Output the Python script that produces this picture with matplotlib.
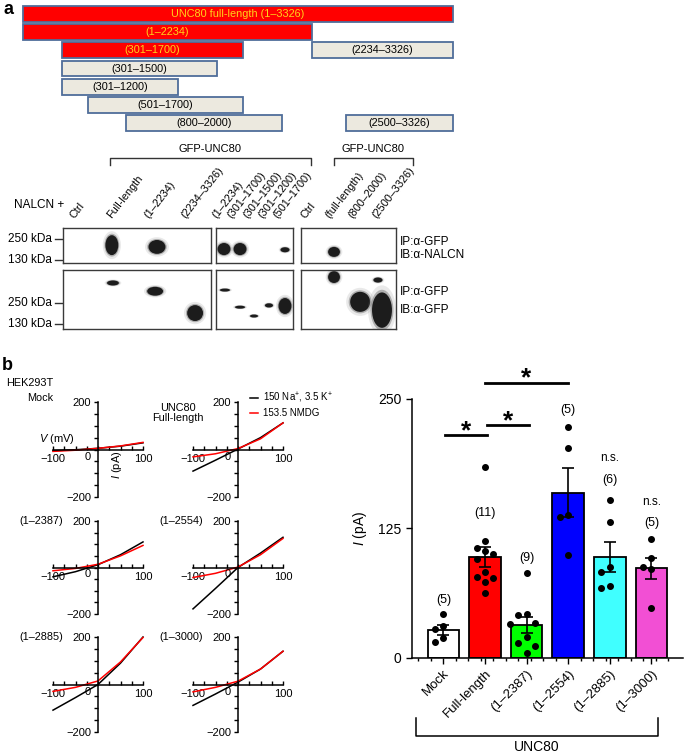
import numpy as np
import matplotlib
matplotlib.use('Agg')
import matplotlib.pyplot as plt
from matplotlib.patches import Ellipse

plt.rcParams['font.family'] = ['Liberation Sans', 'DejaVu Sans']
plt.rcParams['mathtext.fontset'] = 'custom'
plt.rcParams['mathtext.rm'] = 'Liberation Sans'
plt.rcParams['mathtext.it'] = 'Liberation Sans:italic'

# ---- data: construct map ----
constructs = ['UNC80 full-length (1–3326)', '(1–2234)', '(301–1700)', '(2234–3326)',
              '(301–1500)', '(301–1200)', '(501–1700)', '(800–2000)', '(2500–3326)']
starts = [1, 1, 301, 2234, 301, 301, 501, 800, 2500]
ends = [3326, 2234, 1700, 3326, 1500, 1200, 1700, 2000, 3326]
rows = [0, 1, 2, 2, 3, 4, 5, 6, 6]
highlighted = [True, True, True, False, False, False, False, False, False]

# ---- data: co-IP blot (lane, y fraction, width, height) ----
lanes_p1 = ['Ctrl', 'Full-length', '(1–2234)', '(2234–3326)']
lanes_p2 = ['(1–2234)', '(301–1700)', '(301–1500)', '(301–1200)', '(501–1700)']
lanes_p3 = ['Ctrl', '(full-length)', '(800–2000)', '(2500–3326)']
nalcn_p1 = [(0.82, 0.49, 0.35, 0.56), (2.04, 0.54, 0.46, 0.39)]
nalcn_p2 = [(0.02, 0.6, 0.84, 0.34), (1.06, 0.6, 0.84, 0.34), (3.98, 0.62, 0.58, 0.14)]
nalcn_p3 = [(0.89, 0.68, 0.5, 0.28)]
gfp_p1 = [(0.85, 0.22, 0.32, 0.085), (1.99, 0.36, 0.43, 0.15), (3.07, 0.73, 0.43, 0.27)]
gfp_p2 = [(0.08, 0.34, 0.65, 0.05), (1.06, 0.63, 0.65, 0.05), (1.97, 0.78, 0.52, 0.05),
          (2.94, 0.6, 0.52, 0.07), (3.98, 0.61, 0.84, 0.27)]
gfp_p3 = [(0.89, 0.12, 0.5, 0.2), (1.99, 0.54, 0.84, 0.34), (2.74, 0.17, 0.38, 0.085),
          (2.91, 0.68, 0.84, 0.6)]

# ---- data: I-V curves ----
volts = [-100, -50, 0, 50, 100]
iv_names = ['Mock', 'Full-length', '(1–2387)', '(1–2554)', '(1–2885)', '(1–3000)']
iv_na = [[-5, -1, 5, 14, 28], [-91, -45, 2, 50, 112], [-40, -18, 12, 55, 110],
         [-178, -90, 0, 62, 130], [-108, -55, 0, 90, 200], [-88, -40, 10, 65, 140]]
iv_nmdg = [[-8, -3, 5, 15, 30], [-31, -18, 4, 45, 112], [-14, -4, 14, 50, 95],
           [-43, -25, 2, 55, 125], [-29, -12, 15, 95, 198], [-31, -12, 14, 65, 140]]

# ---- data: bar chart ----
groups = ['Mock', 'Full-length', '(1–2387)', '(1–2554)', '(1–2885)', '(1–3000)']
means = [26.7, 97, 31.6, 159.5, 97.6, 86.3]
sems = [5, 9.7, 7.3, 23.5, 14.4, 10.2]
points = [[42, 31, 28, 19, 15],
          [184, 113, 106, 103, 100, 95, 83, 78, 77, 73, 63],
          [82, 42, 41, 34, 33, 20, 14, 11, 5],
          [223, 203, 138, 136, 99],
          [152, 131, 88, 83, 69, 67],
          [115, 96, 88, 86, 48]]
bar_colors = ['white', '#ff0000', '#00ff00', '#0000ff', '#40ffff', '#f24fd4']

W, H = 685, 756
fig = plt.figure(figsize=(W / 100, H / 100), dpi=100)


def px_axes(x0, y0, x1, y1):
    return fig.add_axes([x0 / W, 1 - y1 / H, (x1 - x0) / W, (y1 - y0) / H])


ov = px_axes(0, 0, W, H)
ov.set_xlim(0, W)
ov.set_ylim(H, 0)
ov.axis('off')
ov.text(4, 9, 'a', fontsize=13, fontweight='bold', va='center')
ov.text(2, 365, 'b', fontsize=13, fontweight='bold', va='center')

# construct map
sc = px_axes(23, 4.9, 453, 132.1)
sc.set_xlim(1, 3326)
sc.set_ylim(6.5, -0.5)
sc.axis('off')
for name, s, e, r, hl in zip(constructs, starts, ends, rows, highlighted):
    sc.barh(r, e - s, left=s, height=0.88, color='#ff0000' if hl else '#ece9df',
            edgecolor='#4f6d9a', linewidth=1.3, clip_on=False)
    sc.text((s + e) / 2, r, name, ha='center', va='center', fontsize=7.8,
            color='#ffd21a' if hl else 'black')

# blot
panel_x = [(63, 211), (216, 293), (301, 396)]
lane_sets = [lanes_p1, lanes_p2, lanes_p3]
top_bands = [nalcn_p1, nalcn_p2, nalcn_p3]
bot_bands = [gfp_p1, gfp_p2, gfp_p3]
blot_axes = []
for (x0, x1), names, tb, bb in zip(panel_x, lane_sets, top_bands, bot_bands):
    pair = []
    for (y0, y1), bands in [((227.7, 263.3), tb), ((270, 329), bb)]:
        ax = px_axes(x0, y0, x1, y1)
        ax.set_xlim(-0.5, len(names) - 0.5)
        ax.set_ylim(1, 0)
        ax.set_xticks([])
        ax.set_yticks([])
        for sp in ax.spines.values():
            sp.set_color('#3a3a3a')
            sp.set_linewidth(1.0)
        for lane, y, w, h in bands:
            for sc_f, col, al in [(1.4, '#888888', 0.18), (1.15, '#444444', 0.35), (1.0, '#1c1c1c', 1.0)]:
                ax.add_patch(Ellipse((lane, y), w * sc_f, h * sc_f, color=col, alpha=al, lw=0))
        pair.append(ax)
    for i, nm in enumerate(names):
        pair[0].annotate(nm, xy=(i, 0), xycoords='data', xytext=(-4, 5.5),
                         textcoords='offset points', rotation=52, rotation_mode='anchor',
                         ha='left', va='bottom', fontsize=7.8)
    blot_axes.append(pair)

for ax, ys in [(blot_axes[0][0], [0.32, 0.91]), (blot_axes[0][1], [0.56, 0.92])]:
    tr = ax.get_yaxis_transform()
    for lab, y in zip(['250 kDa', '130 kDa'], ys):
        ax.plot([-0.054, -0.005], [y, y], color='#333333', lw=1.0, transform=tr, clip_on=False)
        ax.text(-0.075, y, lab, ha='right', va='center', fontsize=8.5, transform=tr)

for ax, labs, ys in [(blot_axes[2][0], ['IP:α-GFP', 'IB:α-NALCN'], [0.4, 0.77]),
                     (blot_axes[2][1], ['IP:α-GFP', 'IB:α-GFP'], [0.37, 0.68])]:
    tr = ax.get_yaxis_transform()
    for lab, y in zip(labs, ys):
        ax.text(1.04, y, lab, ha='left', va='center', fontsize=8.5, transform=tr)

ov.text(14, 205, 'NALCN +', ha='left', va='center', fontsize=8.5)
for xa, xb in [(110, 311), (334, 413)]:
    ov.plot([xa, xa, xb, xb], [165, 157.7, 157.7, 165], color='#333333', lw=1.0)
    ov.text((xa + xb) / 2, 149, 'GFP-UNC80', ha='center', va='center', fontsize=8)

# I-V panels
col_x = [(53, 143), (193, 283)]
row_y = [(402, 497), (521, 614), (637, 732)]
iv_axes = []
for k in range(6):
    x0, x1 = col_x[k % 2]
    y0, y1 = row_y[k // 2]
    ax = px_axes(x0, y0, x1, y1)
    ax.patch.set_visible(False)
    ax.set_xlim(-100, 100)
    ax.set_ylim(-200, 200)
    ax.spines['left'].set_position(('data', 0))
    ax.spines['bottom'].set_position(('data', 0))
    ax.spines['right'].set_visible(False)
    ax.spines['top'].set_visible(False)
    ax.spines['left'].set_linewidth(1.1)
    ax.spines['bottom'].set_linewidth(1.1)
    ax.set_xticks([-100, 100])
    ax.set_xticklabels(['−100', '100'])
    ax.set_xticks(np.arange(-100, 101, 25), minor=True)
    ax.set_yticks([-200, 200])
    ax.set_yticklabels(['−200', '200'])
    ax.set_yticks(np.arange(-200, 201, 50), minor=True)
    ax.tick_params(axis='x', which='both', direction='in', length=3, width=1, labelsize=8, pad=3.5)
    ax.tick_params(axis='y', which='both', direction='out', length=3, width=1, labelsize=8, pad=2)
    ax.text(-22, -30, '0', ha='center', va='center', fontsize=8)
    ax.plot(volts, iv_na[k], color='black', lw=1.1, clip_on=False)
    ax.plot(volts, iv_nmdg[k], color='#ff0000', lw=1.1, clip_on=False)
    iv_axes.append(ax)

iv_axes[0].text(0.0, 1.2, 'HEK293T', transform=iv_axes[0].transAxes, ha='right', va='center', fontsize=7.8)
iv_axes[0].text(0.0, 1.04, 'Mock', transform=iv_axes[0].transAxes, ha='right', va='center', fontsize=7.8)
iv_axes[1].text(-0.17, 0.885, 'UNC80\nFull-length', transform=iv_axes[1].transAxes,
                ha='center', va='center', fontsize=7.8, linespacing=1.1)
for k in range(2, 6):
    iv_axes[k].text(0.11, 1.0, iv_names[k], transform=iv_axes[k].transAxes,
                    ha='right', va='center', fontsize=7.8)
iv_axes[0].text(-92, 45, '$V$ (mV)', ha='center', va='center', fontsize=8)
iv_axes[0].text(42, -64, '$I$ (pA)', ha='center', va='center', fontsize=8, rotation=90)
for y, c, lab in [(1.04, 'black', '150 Na$^{+}$, 3.5 K$^{+}$'), (0.885, '#ff0000', '153.5 NMDG')]:
    iv_axes[1].plot([0.63, 0.72], [y, y], color=c, lw=1.1, transform=iv_axes[1].transAxes, clip_on=False)
    iv_axes[1].text(0.78, y, lab, transform=iv_axes[1].transAxes, ha='left', va='center', fontsize=7)

# bar chart
bx = px_axes(411.7, 399, 683, 657.7)
bx.patch.set_visible(False)
x = np.arange(len(groups))
bx.bar(x, means, width=0.76, color=bar_colors, edgecolor='black', linewidth=1.3, zorder=2)
bx.errorbar(x, means, yerr=sems, fmt='none', ecolor='black', elinewidth=1.2,
            capsize=4, capthick=1.2, zorder=3)


def swarm(vals, step=0.2, gap=10):
    placed = []
    offs = []
    for v in vals:
        used = [o for w, o in placed if abs(w - v) < gap]
        for o in [0, -step, step, -2 * step, 2 * step]:
            if o not in used:
                break
        placed.append((v, o))
        offs.append(o)
    return np.array(offs)


for i, vals in enumerate(points):
    bx.plot(i + swarm(vals), vals, 'o', color='black', ms=4, zorder=4, clip_on=False)

n_y = [56, 140, 96, 239, 172, 130]
for i, vals in enumerate(points):
    bx.text(i, n_y[i], f'({len(vals)})', ha='center', va='center', fontsize=9)
for i, y in [(4, 192.6), (5, 150)]:
    bx.text(i, y, 'n.s.', ha='center', va='center', fontsize=8.5)

sig_pairs = [(0.05, 1.05), (1.05, 2.05), (1.0, 3.0)]
sig_y = [215, 224.5, 265.8]
for (a, b), y in zip(sig_pairs, sig_y):
    bx.plot([a, b], [y, y], color='black', lw=2, clip_on=False)
    bx.text((a + b) / 2, y - 3, '*', ha='center', va='baseline', fontsize=19, fontweight='bold')

bx.set_xlim(-0.76, 5.76)
bx.set_ylim(0, 250)
bx.set_yticks([0, 125, 250])
bx.set_xticks(x)
bx.set_xticks(np.arange(-0.6, 5.7, 0.3), minor=True)
bx.set_xticklabels(groups, rotation=45, ha='right', va='top', rotation_mode='anchor', fontsize=9.5)
bx.tick_params(axis='y', labelsize=10, length=4, width=1)
bx.tick_params(axis='x', which='major', length=4, width=1, pad=3)
bx.tick_params(axis='x', which='minor', length=2, width=1)
bx.spines['right'].set_visible(False)
bx.spines['top'].set_visible(False)
bx.spines['left'].set_linewidth(1.1)
bx.spines['bottom'].set_linewidth(1.1)
bx.text(-0.19, 0.5, '$I$ (pA)', transform=bx.transAxes, rotation=90, ha='center', va='center', fontsize=10)
tr = bx.get_xaxis_transform()
bx.plot([-0.66, -0.66, 5.16, 5.16], [-0.233, -0.303, -0.303, -0.233], color='black', lw=1.1,
        transform=tr, clip_on=False)
bx.text(2.25, -0.362, 'UNC80', transform=tr, ha='center', va='baseline', fontsize=10)

fig.savefig('out.png', dpi=100)
